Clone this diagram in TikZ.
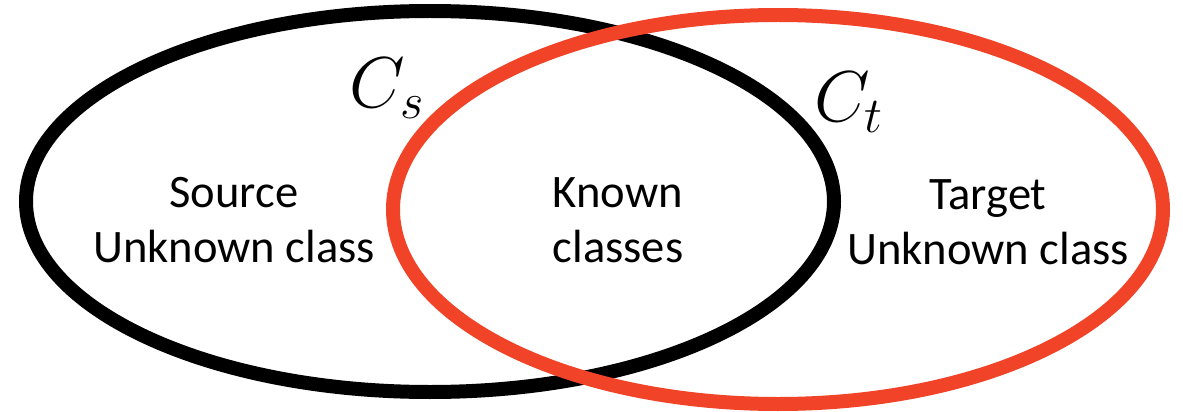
\RequirePackage{fix-cm}
\documentclass[tikz,border=0pt]{standalone}
\usepackage{fontspec}
\newfontfamily\labelfont{Carlito}
\definecolor{setred}{RGB}{240,67,40}
\tikzset{
  setline/.style={line width=0.28cm},
  setlabel/.style={font=\labelfont\fontsize{26.5}{31.3}\selectfont, align=center, inner sep=0pt},
  setname/.style={font=\fontsize{41}{41}\selectfont, inner sep=0pt}
}
\begin{document}
\begin{tikzpicture}[x=0.02cm,y=-0.02cm]
      \useasboundingbox (0,0) rectangle (1183,412);
      % the two class sets
      \draw[setline] (430,201.5) ellipse (404 and 190.5);
      \draw[setline,color=setred] (778,209.5) ellipse (385 and 194.5);
      % names of the sets
      \node[setname] (cs) at (387,88) {$C_s$};
      \node[setname] (ct) at (849,102) {$C_t$};
      % regions
      \node[setlabel] (source) at (234,220) {Source\\Unknown class};
      \node[setlabel] (known) at (618,220) {Known\\classes};
      \node[setlabel] (target) at (988,222) {Target\\Unknown class};
    \end{tikzpicture}
\end{document}
